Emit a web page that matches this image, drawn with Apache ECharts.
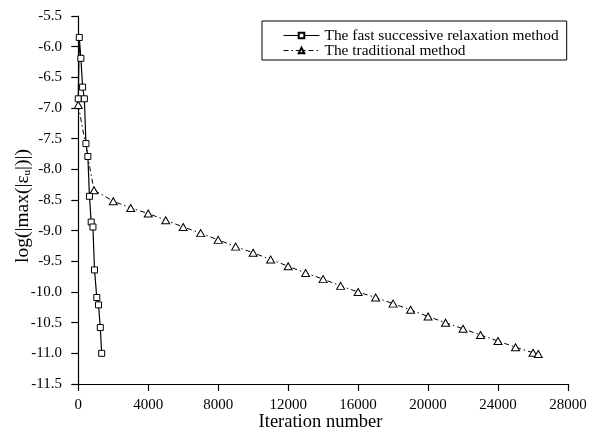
<!DOCTYPE html>
<html>
<head>
<meta charset="utf-8">
<script src="https://cdn.jsdelivr.net/npm/echarts@6/dist/echarts.min.js"></script>
<style>
  html, body { margin: 0; padding: 0; background: #fff; }
  #chart { width: 592px; height: 441px; }
</style>
</head>
<body>
<div id="chart"></div>
<script>
// Convergence history: iteration number vs log of the maximum residual
const fastIter = [0, 60, 150, 250, 350, 440, 550, 640, 740, 840, 930, 1060, 1160, 1260, 1340];
const fastLog  = [-6.85, -5.85, -6.19, -6.66, -6.85, -7.58, -7.79, -8.44, -8.86, -8.94, -9.64, -10.09, -10.21, -10.58, -11.0];

const tradIter = [0, 900, 2000, 3000, 4000, 5000, 6000, 7000, 8000, 9000, 10000, 11000, 12000,
                  13000, 14000, 15000, 16000, 17000, 18000, 19000, 20000, 21000, 22000, 23000,
                  24000, 25000, 26000, 26300];
const tradLog  = [-6.95, -8.34, -8.52, -8.63, -8.72, -8.83, -8.94, -9.04, -9.15, -9.26, -9.36, -9.47, -9.58,
                  -9.69, -9.79, -9.90, -10.00, -10.09, -10.19, -10.29, -10.40, -10.50, -10.60, -10.70,
                  -10.80, -10.90, -10.99, -11.01];

const xTicks = [0, 4000, 8000, 12000, 16000, 20000, 24000, 28000];

const fastName = 'The fast successive relaxation method';
const tradName = 'The traditional method';

const serif = 'Liberation Serif';
const zip = (xs, ys) => xs.map((x, i) => [x, ys[i]]);

const chart = echarts.init(document.getElementById('chart'));
chart.setOption({
  animation: false,
  backgroundColor: '#fff',
  textStyle: { fontFamily: serif, color: '#000' },
  grid: { left: 73, right: 24, top: 16, bottom: 57, outerBoundsMode: 'none', containLabel: false },
  legend: {
    orient: 'vertical',
    left: 262,
    top: 21,
    data: [fastName, tradName],
    itemWidth: 36,
    itemHeight: 7,
    itemGap: 0,
    padding: [7, 8, 2, 21],
    borderColor: '#000',
    borderWidth: 1,
    lineStyle: { width: 1 },
    textStyle: { fontFamily: serif, fontSize: 15.4, lineHeight: 13, color: '#000' }
  },
  xAxis: {
    type: 'value',
    min: -300,
    max: 28000,
    name: 'Iteration number',
    nameLocation: 'middle',
    nameGap: 29,
    nameMoveOverlap: false,
    nameTextStyle: { fontFamily: serif, fontSize: 18.5, color: '#000' },
    splitLine: { show: false },
    axisLine: { lineStyle: { color: '#000', width: 1.2 } },
    axisTick: { customValues: xTicks, length: 7, lineStyle: { color: '#000', width: 1.2 } },
    axisLabel: { customValues: xTicks, fontFamily: serif, fontSize: 15, color: '#000', margin: 14,
                 formatter: v => String(v) }
  },
  yAxis: {
    type: 'value',
    min: -11.5,
    max: -5.5,
    interval: 0.5,
    name: 'log(|max(|ε{sub|u}|)|)',
    nameLocation: 'middle',
    nameGap: 40,
    nameMoveOverlap: false,
    nameRotate: 90,
    nameTextStyle: {
      fontFamily: serif, fontSize: 19.5, color: '#000', padding: [0, 12, 0, 0],
      rich: { sub: { fontFamily: serif, fontSize: 11, color: '#000', verticalAlign: 'bottom', padding: [10, 0, 0, 0] } }
    },
    splitLine: { show: false },
    axisLine: { lineStyle: { color: '#000', width: 1.2 } },
    axisTick: { length: 7, lineStyle: { color: '#000', width: 1.2 } },
    axisLabel: { fontFamily: serif, fontSize: 15, color: '#000', margin: 11, formatter: v => v.toFixed(1) }
  },
  series: [
    {
      name: tradName,
      type: 'line',
      data: zip(tradIter, tradLog),
      symbol: 'triangle',
      symbolSize: [8, 7],
      itemStyle: { color: '#fff', borderColor: '#000', borderWidth: 1 },
      lineStyle: { color: '#000', width: 1, type: [5, 3, 1.5, 3] }
    },
    {
      name: fastName,
      type: 'line',
      data: zip(fastIter, fastLog),
      symbol: 'rect',
      symbolSize: 6,
      itemStyle: { color: '#fff', borderColor: '#000', borderWidth: 1 },
      lineStyle: { color: '#000', width: 1.2, type: 'solid' }
    }
  ]
});
</script>
</body>
</html>
